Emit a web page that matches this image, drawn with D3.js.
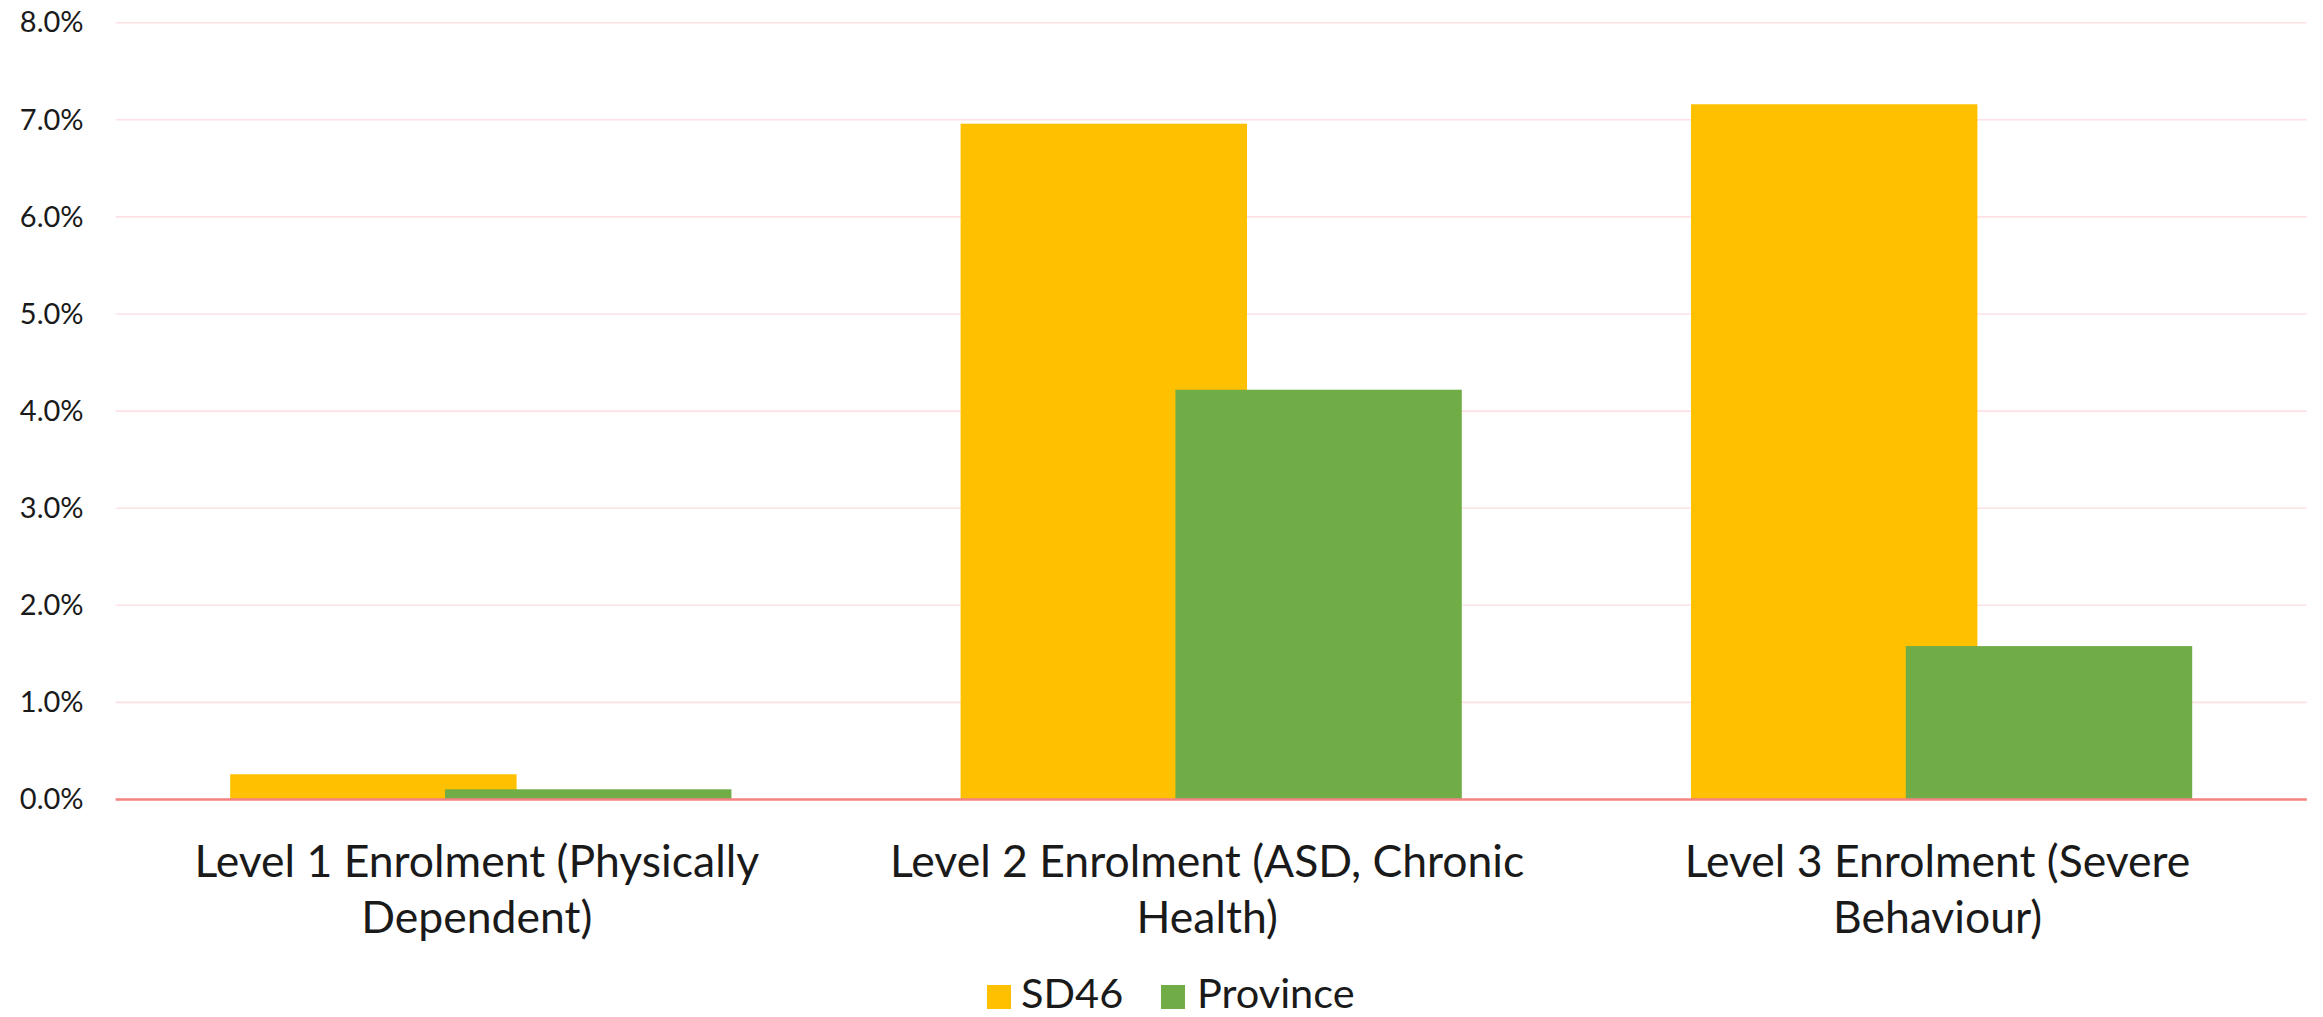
<!DOCTYPE html>
<html>
<head>
<meta charset="utf-8">
<script src="https://cdn.jsdelivr.net/npm/d3@7"></script>
<style>
  html, body { margin: 0; padding: 0; background: #ffffff; }
  svg { display: block; }
  text { font-family: Lato, "Open Sans", sans-serif; fill: #1a1a1a; }
</style>
</head>
<body>
<svg id="chart" width="2323" height="1017"></svg>
<script>
// Enrolment share by special-needs level
const categories = [
  "Level 1 Enrolment (Physically Dependent)",
  "Level 2 Enrolment (ASD, Chronic Health)",
  "Level 3 Enrolment (Severe Behaviour)"
];
const categoryLines = [
  ["Level 1 Enrolment (Physically", "Dependent)"],
  ["Level 2 Enrolment (ASD, Chronic", "Health)"],
  ["Level 3 Enrolment (Severe", "Behaviour)"]
];
const seriesNames = ["SD46", "Province"];
const sd46Values = [0.0026, 0.0696, 0.0716];
const provinceValues = [0.00105, 0.0422, 0.0158];
const yTicks = [0, 0.01, 0.02, 0.03, 0.04, 0.05, 0.06, 0.07, 0.08];
const seriesColors = ["#FFC000", "#70AD47"];

const seriesValues = [sd46Values, provinceValues];

const svg = d3.select("#chart");
const plot = { left: 115.6, right: 2306.8, top: 22.7, bottom: 799.5 };

const x = d3.scaleBand()
  .domain(categories)
  .range([plot.left, plot.right])
  .paddingInner(0.3138)
  .paddingOuter(0.1569);

const y = d3.scaleLinear().domain([0, 0.08]).range([plot.bottom, plot.top]);

// bars within a group overlap by 25%
const overlap = 0.25;
const barW = x.bandwidth() / (seriesValues.length - overlap * (seriesValues.length - 1));

// gridlines
svg.append("g")
  .selectAll("line")
  .data(yTicks.filter(d => d > 0))
  .join("line")
  .attr("x1", plot.left).attr("x2", plot.right)
  .attr("y1", d => y(d)).attr("y2", d => y(d))
  .attr("stroke", "#fde1e4")
  .attr("stroke-width", 1.6);

// y axis labels
const yAxis = d3.axisLeft(y)
  .tickValues(yTicks)
  .tickFormat(d3.format(".1%"))
  .tickSize(0)
  .tickPadding(32);
const yg = svg.append("g").attr("transform", `translate(${plot.left},0)`).call(yAxis);
yg.select(".domain").remove();
yg.selectAll("text")
  .attr("font-size", 29)
  .attr("font-family", "Lato, sans-serif")
  .attr("fill", "#1a1a1a");

// bars
seriesValues.forEach((vals, si) => {
  svg.append("g")
    .selectAll("rect")
    .data(categories.map((c, i) => ({ c, v: vals[i] })))
    .join("rect")
    .attr("x", d => x(d.c) + si * barW * (1 - overlap))
    .attr("width", barW)
    .attr("y", d => y(d.v))
    .attr("height", d => y(0) - y(d.v))
    .attr("fill", seriesColors[si]);
});

// baseline
svg.append("line")
  .attr("x1", plot.left).attr("x2", plot.right)
  .attr("y1", y(0)).attr("y2", y(0))
  .attr("stroke", "#f58282")
  .attr("stroke-width", 2.6);

// category labels, wrapped on two lines
const xg = svg.append("g");
categories.forEach((c, i) => {
  const cx = x(c) + x.bandwidth() / 2 - 4;
  const t = xg.append("text")
    .attr("x", cx)
    .attr("y", 877)
    .attr("text-anchor", "middle")
    .attr("font-size", 44.5);
  categoryLines[i].forEach((line, li) => {
    t.append("tspan")
      .attr("x", cx)
      .attr("dy", li === 0 ? 0 : 56)
      .text(line);
  });
});

// legend
const legendItems = [
  { name: seriesNames[0], color: seriesColors[0], sx: 987, tx: 1021 },
  { name: seriesNames[1], color: seriesColors[1], sx: 1161, tx: 1197 }
];
const lg = svg.append("g");
legendItems.forEach(it => {
  lg.append("rect")
    .attr("x", it.sx).attr("y", 985)
    .attr("width", 24).attr("height", 24)
    .attr("fill", it.color);
  lg.append("text")
    .attr("x", it.tx).attr("y", 1008)
    .attr("font-size", 41.5)
    .text(it.name);
});
</script>
</body>
</html>
